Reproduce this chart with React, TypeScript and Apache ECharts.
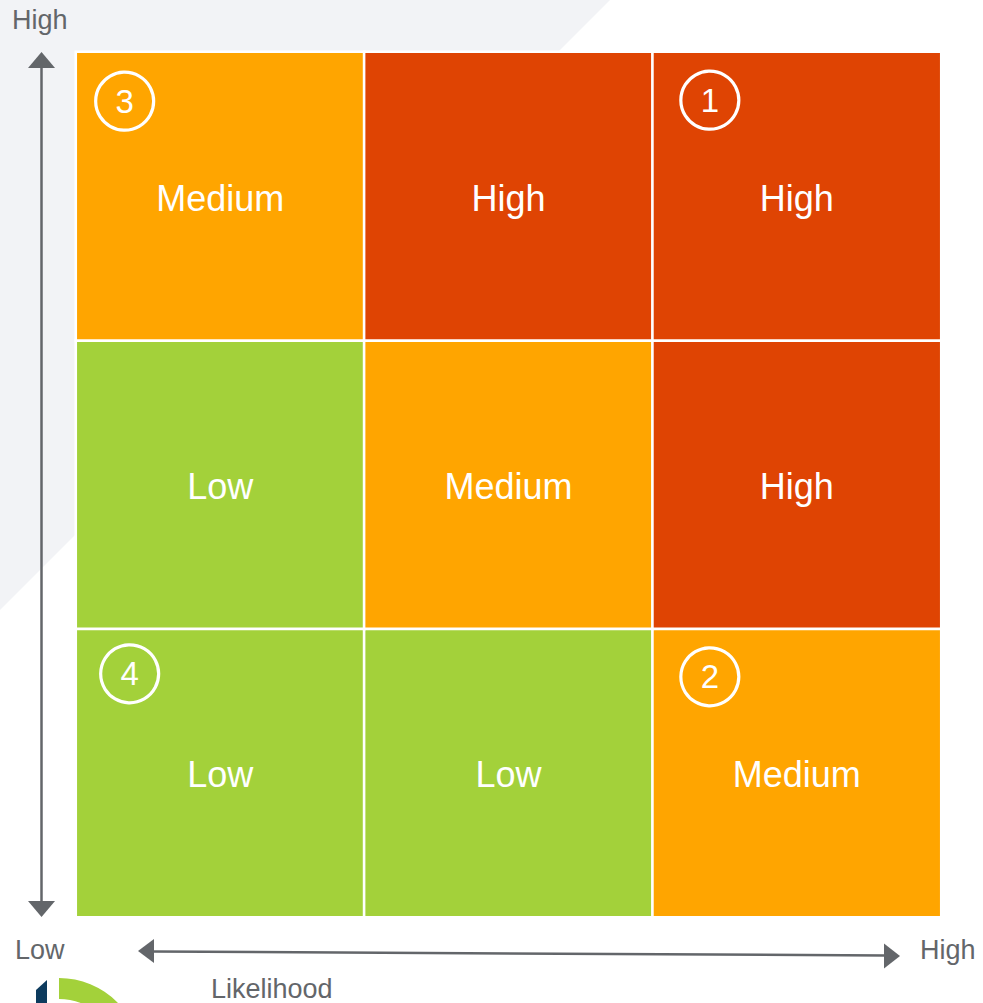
import React, { useEffect, useRef } from "react";
import * as echarts from "echarts";

// Likelihood (x) and Impact (y) categories
const likelihood = ["Low", "Medium", "High"];
const impact = ["Low", "Medium", "High"];
const levelNames = ["Low", "Medium", "High"];
// [likelihoodIndex, impactIndex, level(1..3)]
const cells: [number, number, number][] = [
  [0, 0, 1], [1, 0, 1], [2, 0, 2],
  [0, 1, 1], [1, 1, 2], [2, 1, 3],
  [0, 2, 2], [1, 2, 3], [2, 2, 3],
];
// numbered risk markers: [likelihoodIndex, impactIndex, number]
const markers: [number, number, number][] = [
  [2, 2, 1],
  [2, 0, 2],
  [0, 2, 3],
  [0, 0, 4],
];
// layout: marker offsets from the cell centre (px), same order as markers
const markerOffsets: [number, number][] = [
  [-87, -96],
  [-87, -96],
  [-95.5, -95],
  [-90.5, -99],
];

const COLORS = { low: "#a3d13a", medium: "#ffa500", high: "#df4403" };
const GRAY = "#63666a";
const FONT = "Arial, 'Liberation Sans', sans-serif";

export default function App() {
  const ref = useRef<HTMLDivElement>(null);
  useEffect(() => {
    if (!ref.current) return;
    const chart = echarts.init(ref.current, undefined, { renderer: "svg" });
    const textStyle = (x: number, y: number, text: string, align = "left") => ({
      type: "text",
      z: 10,
      style: {
        x,
        y,
        text,
        font: `27px ${FONT}`,
        fill: GRAY,
        textAlign: align,
        textVerticalAlign: "middle",
      },
    });
    chart.setOption({
      animation: false,
      backgroundColor: "#ffffff",
      grid: { left: 76, top: 52, width: 865, height: 865 },
      xAxis: {
        type: "category",
        data: likelihood,
        axisLine: { show: false },
        axisTick: { show: false },
        axisLabel: { show: false },
        splitLine: { show: false },
      },
      yAxis: {
        type: "category",
        data: impact,
        axisLine: { show: false },
        axisTick: { show: false },
        axisLabel: { show: false },
        splitLine: { show: false },
      },
      visualMap: {
        show: false,
        type: "piecewise",
        dimension: 2,
        seriesIndex: 0,
        pieces: [
          { value: 1, color: COLORS.low },
          { value: 2, color: COLORS.medium },
          { value: 3, color: COLORS.high },
        ],
      },
      graphic: [
        {
          type: "polygon",
          z: -10,
          silent: true,
          shape: { points: [[0, 0], [610, 0], [0, 610]] },
          style: { fill: "#f2f3f6" },
        },
        // vertical arrow
        {
          type: "line",
          shape: { x1: 41.5, y1: 66, x2: 41.5, y2: 903 },
          style: { stroke: GRAY, lineWidth: 2.5 },
        },
        {
          type: "polygon",
          shape: { points: [[41.5, 52], [28, 68], [55, 68]] },
          style: { fill: GRAY },
        },
        {
          type: "polygon",
          shape: { points: [[41.5, 917], [28, 901], [55, 901]] },
          style: { fill: GRAY },
        },
        // horizontal arrow
        {
          type: "line",
          shape: { x1: 152, y1: 951.5, x2: 886, y2: 955.5 },
          style: { stroke: GRAY, lineWidth: 2.5 },
        },
        {
          type: "polygon",
          shape: { points: [[138, 951], [154, 939], [154, 963]] },
          style: { fill: GRAY },
        },
        {
          type: "polygon",
          shape: { points: [[900, 956], [884, 943.5], [884, 968.5]] },
          style: { fill: GRAY },
        },
        textStyle(12, 20, "High"),
        textStyle(15, 950, "Low"),
        textStyle(920, 950, "High"),
        textStyle(211, 989, "Likelihood"),
        // logo
        {
          type: "polygon",
          shape: { points: [[36, 990], [47, 980], [47, 1010], [36, 1010]] },
          style: { fill: "#0d3b5e" },
        },
        {
          type: "sector",
          shape: {
            cx: 59,
            cy: 1060,
            r0: 61,
            r: 82,
            startAngle: -Math.PI / 2,
            endAngle: 0,
            clockwise: true,
          },
          style: { fill: "#a3d13a" },
        },
      ],
      series: [
        {
          type: "heatmap",
          data: cells,
          itemStyle: { borderColor: "#ffffff", borderWidth: 2.6 },
          label: {
            show: true,
            color: "#ffffff",
            fontSize: 36,
            fontFamily: FONT,
            offset: [0, 2],
            formatter: (p: any) => levelNames[p.value[2] - 1],
          },
          emphasis: { disabled: true },
        },
        {
          type: "scatter",
          data: markers.map((m, i) => ({ value: m, symbolOffset: markerOffsets[i] })),
          symbol: "circle",
          symbolSize: 58,
          itemStyle: {
            color: "rgba(0,0,0,0)",
            borderColor: "#ffffff",
            borderWidth: 3.2,
            opacity: 1,
          },
          label: {
            show: true,
            position: "inside",
            color: "#ffffff",
            fontSize: 33,
            fontFamily: FONT,
            formatter: (p: any) => String(p.value[2]),
          },
          z: 5,
          emphasis: { disabled: true },
        },
      ],
    });
    return () => chart.dispose();
  }, []);
  return (
    <div
      ref={ref}
      style={{ position: "absolute", left: 0, top: 0, width: 983, height: 1003 }}
    />
  );
}
